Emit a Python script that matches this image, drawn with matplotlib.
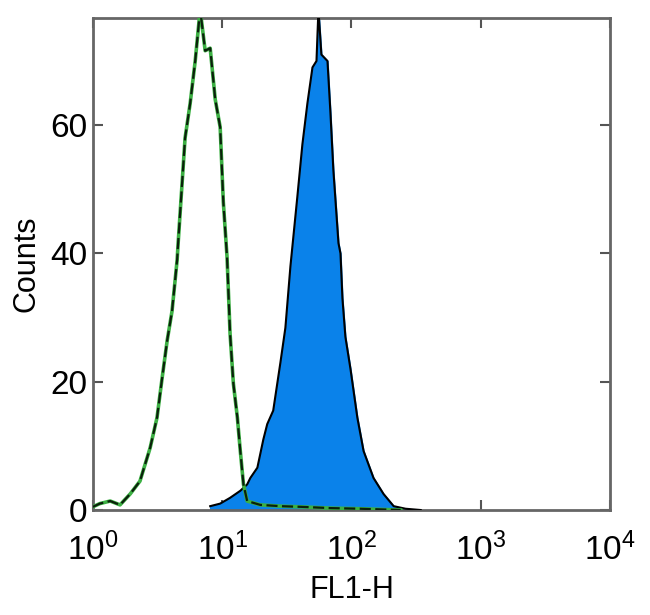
import numpy as np
import matplotlib.pyplot as plt
from matplotlib.ticker import FixedLocator, FuncFormatter

plt.rcParams['font.family'] = ['Liberation Sans', 'DejaVu Sans']
plt.rcParams['mathtext.fontset'] = 'custom'
plt.rcParams['mathtext.rm'] = 'Liberation Sans'
plt.rcParams['mathtext.it'] = 'Liberation Sans:italic'
plt.rcParams['mathtext.bf'] = 'Liberation Sans:bold'

# Isotype control (green outline)
green_fl = [1.00, 1.13, 1.36, 1.62, 1.94, 2.31, 2.77, 3.13, 3.43, 3.75, 4.09,
            4.48, 4.56, 5.16, 5.65, 6.18, 6.75, 7.38, 8.07, 8.83, 9.64, 10.2,
            10.9, 11.5, 12.2, 13.1, 13.8, 14.6, 15.6, 19.7, 28.2, 40.3, 68.7,
            117, 240]
green_counts = [0.5, 1.0, 1.4, 0.8, 2.5, 4.5, 9.7, 14.4, 20.6, 26.4, 31,
                39, 41.6, 58, 63.4, 70, 78, 71.6, 72, 64, 59.7, 48,
                39.4, 27.5, 19.7, 14.4, 9.2, 4, 1.4, 0.8, 0.6, 0.5, 0.3,
                0.2, 0]

# Stained sample (blue filled)
blue_fl = [8.07, 9.64, 11.5, 13.8, 15.6, 16.5, 18.7, 20.8, 22.3, 24.8, 28.2,
           30.8, 33.7, 38.1, 41.7, 45.6, 49.9, 53.6, 55.5, 58.5, 65.2, 68.7,
           72.4, 79.3, 82.2, 85.1, 89.7, 98.2, 111, 124, 148, 177, 212, 262,
           343]
blue_counts = [0.6, 1.0, 1.9, 3.0, 4.0, 5.0, 6.6, 11, 13.4, 15.5, 23,
               28.4, 38, 48.8, 57, 63.4, 69, 70, 78, 71, 70, 62,
               53, 41.6, 40, 33, 27, 22, 14.4, 9.2, 5, 2.5, 0.6, 0.2,
               0]

x_ticks = [1, 10, 100, 1000, 10000]
y_ticks = [0, 20, 40, 60]

fig = plt.figure(figsize=(6.5, 6.15), dpi=100)
ax = fig.add_axes([0.143, 0.1707, 0.7955, 0.80])

ax.fill_between(blue_fl, blue_counts, 0, color='#0a82ea', zorder=2)
ax.plot(blue_fl, blue_counts, color='black', lw=1.5, zorder=3)

ax.plot(green_fl, green_counts, color='#3cb043', lw=2.6, zorder=4)
ax.plot(green_fl, green_counts, color='#0b200b', lw=1.6, ls=(0, (5, 2)), zorder=5)

ax.set_xscale('log')
ax.set_xlim(1, 10000)
ax.set_ylim(0, 76.7)
ax.xaxis.set_major_locator(FixedLocator(x_ticks))
ax.xaxis.set_minor_locator(FixedLocator([]))
ax.xaxis.set_major_formatter(FuncFormatter(
    lambda v, p: r'$\mathregular{10^{%d}}$' % round(np.log10(v))))
ax.yaxis.set_major_locator(FixedLocator(y_ticks))

ax.tick_params(axis='both', direction='in', length=7, width=1.5,
               color='#555555', labelsize=24, top=True, right=True, pad=4)
ax.tick_params(axis='x', pad=16)
for s in ax.spines.values():
    s.set_color('#666666')
    s.set_linewidth(2)

ax.set_xlabel('FL1-H', fontsize=22, labelpad=6)
ax.set_ylabel('Counts', fontsize=22, labelpad=6)

fig.savefig('out.png', dpi=100)
